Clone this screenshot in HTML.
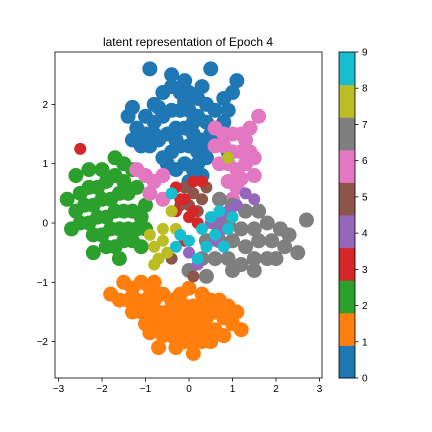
<!DOCTYPE html>
<html><head><meta charset="utf-8"><style>
html,body{margin:0;padding:0;background:#fff;}
svg{display:block;font-family:"Liberation Sans","DejaVu Sans",sans-serif;}
</style></head><body>
<svg id="chart" width="432" height="432" viewBox="0 0 432 432">
<rect width="432" height="432" fill="#fff"/>
<text x="188" y="46" font-size="12" text-anchor="middle">latent representation of Epoch 4</text>
<g id="pts"></g>
<rect x="55" y="52" width="267" height="326" fill="none" stroke="#000" stroke-width="0.8"/>
<g id="axes"></g>
<g id="cbar"></g>
</svg>
<script>
const xTicks=[-3,-2,-1,0,1,2,3];
const yTicks=[-2,-1,0,1,2];
const cbTicks=[0,1,2,3,4,5,6,7,8,9];
const colors=["#1f77b4","#ff7f0e","#2ca02c","#d62728","#9467bd","#8c564b","#e377c2","#7f7f7f","#bcbd22","#17becf"];
const class0=[[-1.0,1.8],[-0.8,2.0],[-0.6,2.2],[-0.4,2.3],[-0.2,2.2],[0,2.2],[0.2,2.1],[0.4,2.0],[0.6,1.9],[0.8,2.1],[1.0,2.2],[-1.2,1.6],[-1.0,1.5],[-0.8,1.7],[-0.6,1.8],[-0.4,1.9],[-0.2,1.9],[0,1.9],[0.2,1.8],[0.4,1.7],[0.6,1.6],[0.8,1.7],[-1.1,1.3],[-0.9,1.3],[-0.7,1.4],[-0.5,1.5],[-0.3,1.6],[-0.1,1.6],[0.1,1.5],[0.3,1.4],[0.5,1.3],[0.7,1.4],[-0.6,1.1],[-0.4,1.2],[-0.2,1.3],[0,1.3],[0.2,1.2],[0.4,1.1],[-0.3,0.9],[-0.1,1.0],[0.1,0.9],[0.3,0.8],[0,0.7],[-0.4,2.5],[-0.9,2.6],[0.5,2.6],[1.1,2.4],[-1.4,1.8],[-1.3,1.4],[0.9,1.2],[-0.8,1.5],[0.5,1.5],[-0.5,1.0],[-0.1,2.4],[0.3,2.3],[-0.7,1.95],[0.1,1.7],[-0.3,1.4],[0.2,1.0],[-1.3,1.95],[0.9,1.9],[-0.1,2.05]];
const class1=[[-1.5,-1.0],[-1.3,-1.1],[-1.1,-1.0],[-0.9,-1.1],[-1.6,-1.3],[-1.4,-1.3],[-1.2,-1.3],[-1.0,-1.3],[-0.8,-1.3],[-0.6,-1.2],[-0.4,-1.3],[-0.2,-1.2],[-1.3,-1.5],[-1.1,-1.5],[-0.9,-1.5],[-0.7,-1.5],[-0.5,-1.5],[-0.3,-1.5],[-0.1,-1.4],[0.1,-1.4],[0.3,-1.4],[0.5,-1.3],[0.7,-1.3],[0.9,-1.4],[1.1,-1.5],[-1.0,-1.7],[-0.8,-1.7],[-0.6,-1.7],[-0.4,-1.7],[-0.2,-1.7],[0,-1.6],[0.2,-1.6],[0.4,-1.6],[0.6,-1.5],[0.8,-1.6],[1.0,-1.7],[-0.6,-1.9],[-0.4,-1.9],[-0.2,-1.9],[0,-1.8],[0.2,-1.8],[0.4,-1.8],[0.6,-1.8],[-0.3,-2.1],[-0.1,-2.0],[0.1,-2.0],[0.3,-2.0],[0.5,-2.0],[0.1,-2.2],[-0.7,-2.1],[1.2,-1.8],[-1.8,-1.2],[0.0,-1.1],[0.3,-1.2],[-0.8,-1.0],[0.8,-1.9],[-0.9,-1.85]];
const class2=[[-2.6,0.8],[-2.3,0.9],[-2.0,0.9],[-1.7,1.1],[-1.5,1.0],[-2.5,0.5],[-2.3,0.6],[-2.1,0.6],[-1.9,0.7],[-1.7,0.8],[-1.5,0.7],[-2.6,0.2],[-2.4,0.3],[-2.2,0.3],[-2.0,0.4],[-1.8,0.4],[-1.6,0.5],[-1.4,0.5],[-2.5,0.0],[-2.3,0.0],[-2.1,0.1],[-1.9,0.1],[-1.7,0.2],[-1.5,0.2],[-1.3,0.2],[-1.1,0.1],[-2.2,-0.2],[-2.0,-0.2],[-1.8,-0.1],[-1.6,-0.1],[-1.4,-0.1],[-1.2,-0.1],[-1.0,-0.1],[-1.9,-0.4],[-1.7,-0.4],[-1.5,-0.3],[-1.3,-0.3],[-1.1,-0.4],[-1.6,-0.6],[-2.7,-0.1],[-2.8,0.4],[-1.2,0.6],[-2.2,-0.5],[-1.3,0.9],[-1.0,0.3]];
const class6=[[0.6,1.6],[0.8,1.5],[1.0,1.5],[1.2,1.5],[1.4,1.6],[0.6,1.3],[0.8,1.3],[1.0,1.2],[1.2,1.2],[1.4,1.2],[0.7,1.0],[0.9,1.0],[1.1,0.9],[1.3,1.0],[0.9,0.7],[1.1,0.6],[1.5,0.8],[1.6,1.8],[-1.0,0.8],[-0.8,0.7],[-0.6,0.8],[-1.2,0.9],[-0.9,0.5],[-0.6,0.4],[1.3,1.4],[1.0,0.4],[1.5,1.1],[1.2,0.75]];
const class7=[[0.7,0.4],[1.0,0.3],[1.3,0.2],[1.6,0.2],[0.6,0.0],[0.9,0.0],[1.2,-0.1],[1.5,-0.1],[1.8,0.0],[2.1,-0.1],[0.4,-0.3],[0.7,-0.3],[1.0,-0.3],[1.3,-0.4],[1.6,-0.3],[1.9,-0.3],[2.2,-0.4],[0.3,-0.6],[0.6,-0.6],[0.9,-0.6],[1.2,-0.7],[1.5,-0.6],[1.8,-0.6],[0.4,-0.9],[1.0,-0.8],[1.5,-0.8],[2.5,-0.5],[2.7,0.05],[0.0,-0.8],[2.3,-0.2],[2.0,-0.6]];
const class4=[[0.5,0.0],[0.7,0.1],[0.9,0.2],[1.3,0.5],[1.5,0.4],[0.6,-0.3],[0.8,-0.1],[0.2,-0.7],[0.0,-0.5],[1.1,0.3]];
const class5=[[-0.1,0.6],[0.1,0.5],[0.3,0.4],[0.0,0.3],[0.2,0.2],[-0.2,0.3],[0.4,0.6],[-0.4,-0.6],[0.1,-0.9]];
const class3=[[-0.3,0.6],[-0.2,0.4],[0.0,0.1],[0.2,0.0],[0.3,0.7],[-2.5,1.25],[-0.1,-0.3],[-0.1,0.4],[0.1,0.7],[-0.3,0.2],[0.1,0.2]];
const class8=[[-0.8,-0.4],[-0.6,-0.3],[-0.7,-0.6],[-0.5,-0.5],[-0.9,-0.2],[-0.3,-0.1],[0.9,1.1],[-0.4,0.2],[-0.6,-0.1],[-0.8,-0.7]];
const class9=[[0.3,-0.1],[0.5,0.1],[0.7,0.2],[0.4,-0.4],[0.6,-0.2],[-0.2,-0.2],[0.2,-0.6],[0.9,-0.1],[-0.4,0.5],[-0.3,-0.4],[0.8,-0.4],[1.0,0.1],[0.0,-0.3]];
const drawOrder=[[2,class2],[1,class1],[0,class0],[6,class6],[7,class7],[4,class4],[5,class5],[3,class3],[8,class8],[9,class9]];

const NS="http://www.w3.org/2000/svg";
const X0=189, XS=43.5, Y0=223, YS=59.3;
function sx(v){return X0+v*XS;}
function sy(v){return Y0-v*YS;}
function mk(tag,attrs,parent){const e=document.createElementNS(NS,tag);for(const k in attrs)e.setAttribute(k,attrs[k]);parent.appendChild(e);return e;}

const pts=document.getElementById('pts');
drawOrder.forEach(([cls,arr])=>{
  const big=cls<3||cls===6||cls===7;
  arr.forEach(p=>{
    const c=mk('circle',{cx:sx(p[0]),cy:sy(p[1]),r:big?7.5:6,fill:colors[cls]},pts);
    
    
  });
});

const axes=document.getElementById('axes');
xTicks.forEach(t=>{
  const l=mk('line',{x1:sx(t),x2:sx(t),y1:378,y2:381.5,stroke:'#000','stroke-width':0.8},axes);
  
  
  const tx=mk('text',{x:sx(t),y:392,'font-size':10,'text-anchor':'middle'},axes);
  tx.textContent=(t<0?'\u2212'+Math.abs(t):t);
  
  
});
yTicks.forEach(t=>{
  const l=mk('line',{x1:51.5,x2:55,y1:sy(t),y2:sy(t),stroke:'#000','stroke-width':0.8},axes);
  
  
  const tx=mk('text',{x:48,y:sy(t)+3.5,'font-size':10,'text-anchor':'end'},axes);
  tx.textContent=(t<0?'\u2212'+Math.abs(t):t);
  
  
});

const cb=document.getElementById('cbar');
const CBT=52, CBB=378, CBL=339, CBW=16;
const seg=(CBB-CBT)/colors.length;
colors.forEach((c,i)=>{
  const r=mk('rect',{x:CBL,y:CBB-(i+1)*seg,width:CBW,height:seg+0.5,fill:c},cb);
  
  
});
const fr=mk('rect',{x:CBL,y:CBT,width:CBW,height:CBB-CBT,fill:'none',stroke:'#000','stroke-width':0.8},cb);


cbTicks.forEach(t=>{
  const y=CBB-t*(CBB-CBT)/9;
  const l=mk('line',{x1:CBL+CBW,x2:CBL+CBW+3.5,y1:y,y2:y,stroke:'#000','stroke-width':0.8},cb);
  
  
  const tx=mk('text',{x:CBL+CBW+7,y:y+3.5,'font-size':10},cb);
  tx.textContent=t;
  
  
});
</script>
</body></html>
